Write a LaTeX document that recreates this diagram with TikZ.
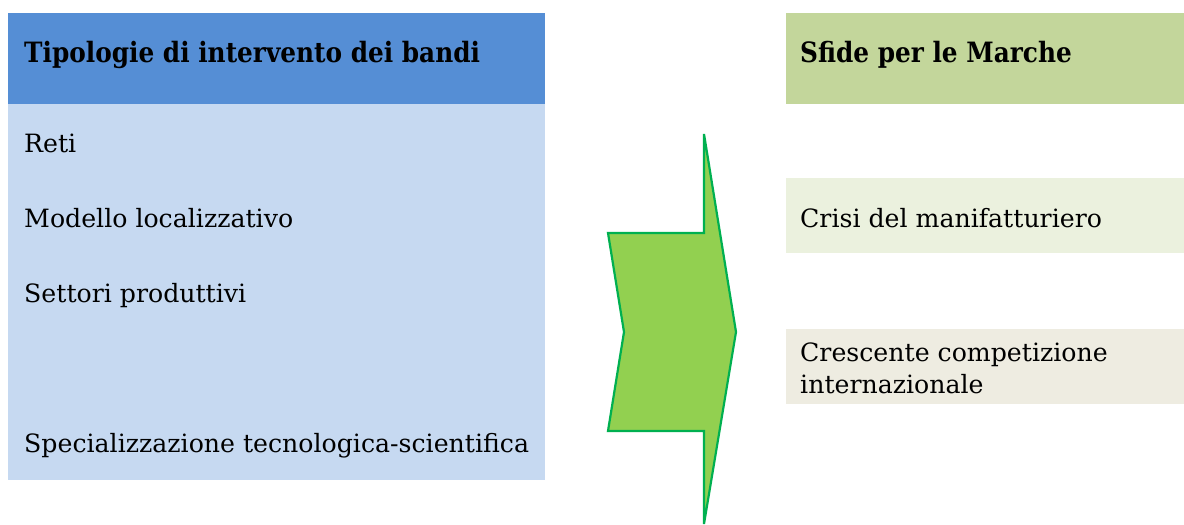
\documentclass[tikz,border=0pt]{standalone}
\usepackage{fontspec}
\setmainfont{DejaVu Serif}
\newfontfamily\titlefont[FakeStretch=0.885]{DejaVu Serif}
\definecolor{hdrblue}{RGB}{85,142,213}
\definecolor{bodyblue}{RGB}{198,217,241}
\definecolor{hdrgreen}{RGB}{195,214,155}
\definecolor{lightgreen}{RGB}{235,241,222}
\definecolor{lightbeige}{RGB}{238,236,225}
\definecolor{arrowfill}{RGB}{146,208,80}
\definecolor{arrowline}{RGB}{0,176,80}
\tikzset{
  title/.style={anchor=base west, inner sep=0pt, font=\titlefont\fontsize{28}{34}\selectfont\bfseries},
  item/.style={anchor=base west, inner sep=0pt, font=\fontsize{25.2}{32}\selectfont, align=left},
}
\begin{document}
\begin{tikzpicture}[x=1pt,y=-1pt]
\useasboundingbox (0,0) rectangle (1184,525);
% left column
\fill[hdrblue] (8,13) rectangle (545,104);
\fill[bodyblue] (8,104) rectangle (545,480);
\node[title] (t1) at (24,62) {Tipologie di intervento dei bandi};
\node[item] (a1) at (24,152) {Reti};
\node[item] (a2) at (24,227) {Modello localizzativo};
\node[item] (a3) at (24,302) {Settori produttivi};
\node[item] (a4) at (24,452) {Specializzazione tecnologica-scientifica};
% right column
\fill[hdrgreen] (786,13) rectangle (1184,104);
\fill[lightgreen] (786,178) rectangle (1184,253);
\fill[lightbeige] (786,329) rectangle (1184,404);
\node[title] (t2) at (800,62) {Sfide per le Marche};
\node[item] (b1) at (800,227) {Crisi del manifatturiero};
\node[item] (b2) at (800,361) {Crescente competizione};
\node[item] (b3) at (800,393) {internazionale};
% arrow
\draw[fill=arrowfill, draw=arrowline, line width=2.2pt, line join=miter]
  (704,134) -- (736,332) -- (704,524) -- (704,431) -- (608,431) -- (624,332) -- (608,233) -- (704,233) -- cycle;
\end{tikzpicture}
\end{document}
